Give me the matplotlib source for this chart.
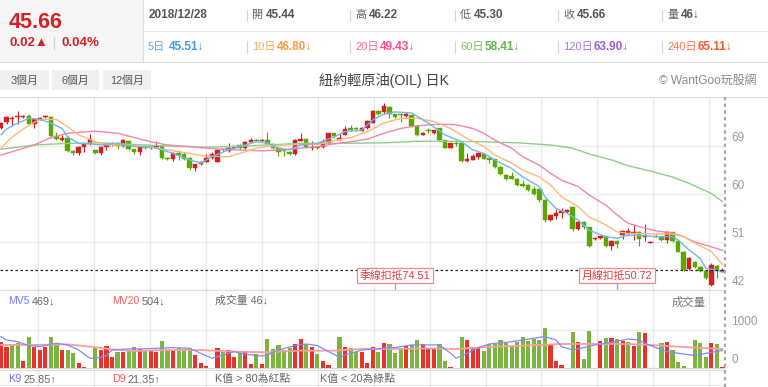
import matplotlib
matplotlib.use('Agg')
import matplotlib.pyplot as plt
from matplotlib.patches import Rectangle
from matplotlib.lines import Line2D

plt.rcParams['font.family'] = ['Liberation Sans', 'Noto Sans CJK TC', 'DejaVu Sans']

# ---- daily candles (131 days) ----
opens = [72.4, 73.6, 74.0, 74.4, 74.5, 74.7, 73.2, 74.1, 74.4, 74.4,
         70.8, 70.2, 70.6, 68.1, 67.7, 68.9, 69.3, 68.2, 67.7, 68.8,
         69.3, 69.6, 69.0, 70.0, 68.4, 67.8, 68.9, 68.6, 68.8, 69.1,
         66.8, 66.6, 67.7, 67.6, 66.8, 64.9, 65.6, 66.1, 66.7, 66.1,
         68.4, 68.0, 68.7, 69.2, 68.6, 69.8, 70.2, 70.0, 70.2, 69.4,
         68.7, 68.3, 67.9, 67.5, 70.0, 70.3, 68.6, 68.9, 68.8, 69.6,
         71.4, 70.2, 71.1, 72.3, 72.3, 71.9, 72.3, 73.4, 75.6, 75.3,
         76.3, 75.0, 74.9, 74.6, 74.8, 72.8, 71.1, 71.9, 71.4, 72.3,
         70.1, 68.7, 69.5, 69.6, 66.2, 66.4, 67.0, 67.6, 66.7, 66.5,
         65.1, 63.6, 63.3, 62.9, 61.9, 61.7, 60.9, 60.9, 58.9, 55.2,
         55.9, 56.5, 56.6, 57.5, 53.4, 54.7, 53.8, 51.6, 51.7, 52.1,
         50.3, 51.2, 52.4, 52.6, 52.7, 52.8, 52.0, 50.9, 52.0, 51.9,
         51.3, 52.8, 51.2, 49.2, 45.9, 47.3, 46.3, 45.5, 42.9, 46.5, 45.44]
closes = [73.4, 74.4, 74.2, 74.5, 74.7, 73.2, 74.1, 74.2, 74.5, 70.8,
          70.4, 70.6, 68.0, 67.7, 68.9, 69.4, 70.3, 67.7, 68.8, 69.3,
          69.4, 69.0, 70.1, 68.4, 67.9, 68.9, 68.6, 68.9, 69.1, 66.7,
          66.6, 67.7, 67.4, 66.5, 64.9, 65.6, 66.1, 66.8, 67.5, 68.3,
          68.2, 68.7, 69.0, 68.6, 69.8, 70.2, 70.0, 70.2, 69.4, 68.7,
          67.9, 68.1, 67.6, 70.1, 70.4, 68.9, 68.8, 68.6, 69.7, 71.4,
          70.8, 70.6, 72.2, 72.1, 72.2, 72.3, 73.7, 75.6, 75.1, 76.6,
          75.0, 74.5, 74.8, 75.0, 72.8, 71.1, 71.4, 71.8, 72.0, 70.1,
          68.7, 69.5, 69.4, 66.2, 66.5, 67.1, 67.7, 66.6, 66.4, 65.0,
          63.7, 62.9, 62.9, 61.7, 61.6, 60.7, 60.0, 58.9, 55.2, 56.0,
          56.5, 56.8, 57.0, 53.4, 54.7, 53.8, 50.3, 51.8, 52.1, 50.3,
          51.2, 50.72, 53.1, 53.1, 52.8, 51.6, 52.1, 51.0, 52.1, 51.3,
          52.8, 51.2, 49.2, 45.7, 48.0, 46.4, 45.6, 44.2, 46.7, 45.6, 45.66]
highs = [73.6, 74.6, 74.6, 75.6, 74.9, 75.0, 74.2, 74.4, 74.9, 74.5,
         71.7, 71.0, 70.8, 68.3, 69.0, 69.5, 71.2, 68.3, 69.1, 69.5,
         69.8, 69.8, 70.3, 70.1, 68.5, 69.0, 69.0, 69.2, 69.9, 69.3,
         67.0, 67.8, 68.2, 67.8, 66.9, 65.7, 66.2, 67.6, 67.9, 68.4,
         68.5, 69.6, 69.1, 69.4, 69.9, 70.6, 70.3, 70.4, 71.6, 69.6,
         68.9, 68.5, 68.0, 70.3, 71.4, 70.4, 70.0, 69.0, 70.3, 71.5,
         71.5, 71.4, 72.8, 72.9, 72.6, 72.6, 73.8, 75.7, 75.8, 77.0,
         76.5, 75.1, 75.0, 75.3, 75.0, 73.0, 71.6, 72.3, 72.1, 72.4,
         70.2, 69.6, 69.9, 69.7, 67.7, 67.6, 67.9, 67.7, 66.9, 66.6,
         65.2, 63.8, 64.1, 63.1, 62.6, 61.9, 61.5, 61.0, 59.0, 56.1,
         57.1, 57.3, 57.1, 57.6, 55.0, 55.0, 53.9, 51.9, 52.2, 52.2,
         51.3, 51.3, 53.2, 53.7, 54.4, 53.0, 54.3, 51.1, 52.3, 52.0,
         53.0, 52.9, 51.3, 49.3, 48.1, 47.5, 46.5, 45.7, 47.0, 46.7, 46.22]
lows = [72.2, 73.2, 72.9, 73.2, 74.3, 72.9, 72.3, 73.9, 74.2, 70.6,
        70.2, 69.9, 67.8, 67.4, 67.3, 67.9, 69.2, 67.6, 67.4, 68.3,
        69.1, 68.4, 68.9, 68.3, 67.6, 67.4, 68.4, 68.5, 68.7, 66.5,
        66.4, 66.2, 66.4, 66.4, 64.5, 64.4, 65.4, 66.0, 66.5, 66.0,
        68.0, 67.9, 68.6, 68.4, 68.5, 69.7, 69.9, 69.9, 69.3, 68.5,
        67.1, 67.1, 67.4, 67.4, 69.9, 68.7, 68.3, 68.5, 68.7, 69.5,
        70.6, 70.1, 71.0, 72.0, 71.8, 71.8, 72.2, 73.3, 74.9, 75.1,
        74.2, 74.3, 73.6, 74.5, 72.6, 70.9, 71.0, 71.4, 71.2, 69.9,
        68.6, 68.6, 69.0, 66.0, 66.1, 66.3, 66.6, 66.5, 65.9, 64.9,
        63.5, 62.7, 62.8, 61.5, 61.4, 60.5, 59.8, 58.5, 54.8, 55.0,
        55.4, 55.5, 56.4, 53.1, 53.2, 53.5, 50.1, 51.4, 51.6, 50.1,
        49.5, 49.9, 51.6, 52.4, 51.3, 50.3, 51.2, 50.8, 51.9, 51.2,
        50.9, 51.0, 49.1, 45.5, 45.8, 46.2, 45.4, 44.0, 42.7, 44.3, 45.30]

# ---- moving averages (day index, value) ----
ma5_idx = [0, 1, 3, 5, 7, 9, 11, 12, 14, 16, 18, 21, 24, 27, 29, 31, 34, 36, 38, 41,
           43, 46, 48, 50, 52, 54, 57, 60, 62, 65, 67, 69, 71, 74, 77, 80, 83, 85, 87, 89,
           92, 94, 97, 98, 100, 102, 104, 106, 109, 111, 113, 116, 118, 121, 122, 124, 126,
           127, 129, 130]
ma5 = [71.1, 72.2, 73.3, 74.2, 74.0, 73.3, 72.3, 70.7, 69.5, 69.4, 69.2, 69.5, 68.9, 68.9,
       68.3, 67.6, 66.4, 65.8, 67.0, 68.3, 68.9, 69.8, 69.6, 68.6, 68.3, 69.2, 69.5, 70.7,
       71.7, 72.0, 73.9, 75.0, 75.4, 75.2, 73.3, 71.1, 69.8, 68.3, 67.6, 66.4, 64.8, 63.2,
       61.4, 59.5, 57.3, 56.4, 55.1, 53.2, 52.0, 51.7, 52.3, 52.2, 52.0, 52.0, 51.4, 49.5,
       47.9, 46.1, 45.7, 45.51]
ma10_idx = [0, 2, 5, 7, 10, 12, 14, 17, 19, 23, 26, 30, 34, 37, 41, 43, 46, 48, 51, 54,
            57, 60, 63, 66, 69, 72, 75, 78, 81, 84, 87, 89, 92, 94, 97, 99, 101, 104, 106,
            109, 111, 113, 116, 118, 121, 123, 125, 128, 130]
ma10 = [68.6, 70.7, 72.9, 74.0, 74.0, 72.6, 71.1, 69.8, 69.2, 69.2, 68.9, 68.3, 67.6, 67.1,
        67.0, 67.6, 68.6, 68.9, 69.2, 69.3, 69.3, 70.0, 70.6, 71.7, 73.3, 74.2, 74.2, 73.6,
        72.3, 70.4, 68.9, 67.3, 65.8, 64.5, 63.2, 61.7, 59.5, 57.6, 55.7, 54.2, 52.9, 52.6,
        52.6, 52.5, 52.5, 52.0, 50.8, 49.2, 46.8]
ma20_idx = [0, 6, 9, 12, 17, 21, 24, 27, 30, 34, 37, 42, 47, 51, 54, 57, 60, 63, 66, 69,
            72, 75, 79, 82, 85, 87, 89, 92, 94, 97, 99, 101, 104, 106, 109, 111, 113, 116,
            118, 121, 123, 125, 128, 130]
ma20 = [67.3, 69.2, 70.6, 71.4, 71.8, 71.4, 70.6, 69.8, 69.2, 68.9, 68.6, 68.3, 68.1, 68.3,
        68.6, 68.9, 69.4, 69.8, 70.3, 71.4, 72.3, 72.8, 73.1, 73.0, 72.3, 71.4, 70.1, 68.6,
        67.0, 65.4, 63.9, 62.6, 61.4, 59.8, 57.9, 56.1, 54.5, 53.6, 53.1, 52.7, 52.0, 51.0,
        50.1, 49.43]
ma60_idx = [0, 6, 12, 18, 24, 30, 36, 42, 48, 54, 60, 69, 75, 81, 87, 93, 99, 103, 106,
            110, 113, 117, 121, 124, 128, 130]
ma60 = [68.4, 69.2, 69.5, 69.6, 69.3, 69.0, 68.8, 68.9, 69.2, 69.5, 69.5, 69.6, 69.9, 69.9,
        69.8, 69.6, 69.2, 68.6, 67.5, 66.4, 65.3, 64.3, 63.2, 62.0, 60.1, 58.6]

# ---- volume ----
volumes = [700, 570, 630, 660, 200, 815, 570, 480, 570, 815,
           675, 480, 480, 410, 150, 35, 0, 525, 480, 590,
           290, 440, 440, 480, 550, 510, 465, 480, 440, 720,
           465, 465, 545, 510, 545, 350, 150, 60, 0, 545,
           440, 480, 305, 410, 465, 105, 375, 115, 770, 510,
           615, 480, 525, 630, 770, 640, 570, 375, 200, 90,
           0, 835, 550, 525, 440, 440, 130, 570, 440, 675,
           640, 410, 510, 590, 615, 745, 630, 525, 525, 630,
           195, 35, 0, 815, 745, 550, 570, 455, 640, 630,
           745, 675, 570, 700, 835, 720, 765, 745, 1060, 650,
           200, 90, 0, 965, 700, 255, 980, 0, 730, 790,
           790, 770, 730, 700, 590, 950, 920, 0, 0, 660,
           685, 480, 160, 60, 0, 745, 660, 305, 660, 630, 46]
vol_up = [1, 1, 0, 0, 1, 0, 1, 1, 1, 0,
          0, 1, 0, 0, 1, 1, 1, 0, 1, 1,
          1, 0, 1, 0, 0, 1, 0, 1, 1, 0,
          0, 1, 0, 0, 0, 1, 1, 1, 1, 1,
          0, 1, 1, 0, 1, 1, 0, 1, 0, 0,
          0, 0, 0, 1, 1, 0, 1, 0, 1, 1,
          0, 0, 1, 0, 0, 1, 1, 1, 0, 1,
          0, 0, 0, 1, 0, 0, 1, 1, 1, 0,
          0, 1, 0, 0, 1, 1, 1, 0, 0, 0,
          0, 0, 0, 0, 0, 0, 0, 0, 0, 1,
          1, 1, 0, 0, 1, 0, 0, 0, 1, 0,
          1, 0, 1, 0, 1, 0, 1, 0, 0, 0,
          1, 0, 0, 0, 0, 0, 0, 0, 1, 0, 1]
mv5_idx = [0, 1, 3, 5, 7, 10, 12, 14, 16, 17, 19, 20, 23, 25, 28, 31, 34, 36, 38, 40,
           42, 44, 47, 48, 50, 53, 55, 57, 59, 61, 62, 65, 67, 71, 74, 77, 79, 81, 82, 84,
           86, 88, 91, 93, 95, 98, 100, 101, 103, 105, 107, 109, 113, 115, 116, 118, 120,
           122, 125, 127, 130]
mv5 = [835, 745, 700, 600, 570, 660, 615, 480, 265, 265, 335, 480, 510, 510, 525, 545,
       525, 395, 265, 350, 440, 370, 325, 350, 480, 600, 640, 600, 440, 290, 350, 480,
       510, 545, 615, 615, 615, 395, 265, 395, 545, 640, 685, 720, 770, 835, 745, 570,
       480, 545, 615, 660, 770, 745, 660, 545, 440, 395, 335, 395, 469]
mv20_idx = [0, 6, 12, 16, 20, 24, 30, 36, 42, 48, 54, 60, 65, 71, 77, 82, 89, 95, 101,
            107, 113, 117, 122, 130]
mv20 = [615, 615, 630, 570, 500, 455, 480, 480, 440, 420, 465, 465, 510, 510, 525, 510,
        570, 600, 640, 640, 640, 615, 570, 504]

price_ticks = [69, 60, 51, 42]
quarter_deduct_day, quarter_deduct = 71, 74.51
month_deduct_day, month_deduct = 111, 50.72

UP, DOWN = '#d42020', '#5aa700'
W, H = 768, 387


def fx(px):
    return px / W


def fy(py):
    return 1 - py / H


fig = plt.figure(figsize=(7.68, 3.87), dpi=100)
fig.patch.set_facecolor('white')


def hline(y, x0, x1, color='#e2e2e2', lw=0.8):
    fig.add_artist(Line2D([fx(x0), fx(x1)], [fy(y), fy(y)], color=color, lw=lw))


def vline(x, y0, y1, color='#e2e2e2', lw=0.8, ls='-'):
    fig.add_artist(Line2D([fx(x), fx(x)], [fy(y0), fy(y1)], color=color, lw=lw, ls=ls))


# ---- header ----
fig.add_artist(Rectangle((0, fy(62)), fx(143), 62 / H, transform=fig.transFigure,
                         fc='#f6f6f6', ec='none'))
vline(143, 0, 62, '#dddddd')
hline(31, 143, 768, '#e6e6e6')
hline(62, 0, 768, '#dddddd')

red = '#d81f26'
fig.text(fx(9), fy(22), '45.66', color=red, fontsize=15.5, fontweight='bold', va='center')
fig.text(fx(9), fy(43), '0.02▲', color=red, fontsize=9.5, fontweight='bold', va='center')
vline(54, 37, 49, '#d0d0d0')
fig.text(fx(62), fy(43), '0.04%', color=red, fontsize=9.5, fontweight='bold', va='center')

fig.text(fx(149), fy(15), '2018/12/28', color='#555555', fontsize=8.5, fontweight='bold',
         va='center')
row1 = [(252, '開', '45.44'), (355, '高', '46.22'), (460, '低', '45.30'),
        (563, '收', '45.66'), (667, '量', '46↓')]
for x, lab, val in row1:
    vline(x - 5, 10, 21, '#d6d6d6')
    fig.text(fx(x), fy(15), lab, color='#666666', fontsize=8, va='center')
    fig.text(fx(x + 14), fy(15), val, color='#555555', fontsize=8.5, fontweight='bold',
             va='center')

row2 = [(148, 21, '5日', '45.51↓', '#3d9be9'), (252, 25, '10日', '46.80↓', '#ff9a3c'),
        (355, 25, '20日', '49.43↓', '#ff4b86'), (460, 25, '60日', '58.41↓', '#62b545'),
        (563, 31, '120日', '63.90↓', '#9c5fd0'), (667, 31, '240日', '65.11↓', '#ff5a2e')]
for x, off, lab, val, col in row2:
    if x > 150:
        vline(x - 5, 41, 53, '#d6d6d6')
    fig.text(fx(x), fy(47), lab, color=col, fontsize=8, va='center', alpha=0.85)
    fig.text(fx(x + off), fy(47), val, color=col, fontsize=8.5, fontweight='bold',
             va='center')

# ---- range buttons and title ----
for x0, x1, lab in [(0, 49, '3個月'), (52, 99, '6個月'), (103, 151, '12個月')]:
    fig.add_artist(Rectangle((fx(x0), fy(90)), fx(x1 - x0), 20 / H,
                             transform=fig.transFigure, fc='#f0f0f0', ec='none'))
    fig.text(fx((x0 + x1) / 2), fy(80.5), lab, color='#555555', fontsize=7.8,
             ha='center', va='center')
fig.text(fx(384), fy(80), '紐約輕原油(OIL) 日K', color='#444444', fontsize=10.2,
         ha='center', va='center')
fig.text(fx(756), fy(80.5), '© WantGoo玩股網', color='#8a8a8a', fontsize=8.6,
         ha='right', va='center')
hline(97, 0, 768, '#dddddd')

# ---- background grid axes (price + volume + kd area) ----
XL = (-0.18, 130.4)
bg = fig.add_axes([0, 0, fx(724.7), fy(97)])
bg.set_xlim(*XL)
bg.set_ylim(0, 1)
bg.set_axis_off()
for k in range(13):
    bg.axvline(6.75 + 10.07 * k, color='#e8e8e8', lw=0.9)

hline(290, 0, 724.7, '#dcdcdc')
hline(370, 0, 724.7, '#dcdcdc')
hline(385, 0, 724.7, '#e6e6e6')

# ---- price panel ----
ax = fig.add_axes([0, fy(290), fx(724.7), (290 - 97) / H])
ax.set_xlim(*XL)
ax.set_ylim(42, 78.2)
ax.set_axis_off()
for v in price_ticks:
    ax.axhline(v, color='#ebebeb', lw=0.9, zorder=0)
    ax.text(1.009, v + 0.45, str(v), transform=ax.get_yaxis_transform(), color='#9a9a9a',
            fontsize=8.5, va='bottom', ha='left')

idx = list(range(len(closes)))
cols = [UP if c >= o else DOWN for o, c in zip(opens, closes)]
bottoms = [min(o, c) for o, c in zip(opens, closes)]
heights = [max(abs(c - o), 0.15) for o, c in zip(opens, closes)]
ax.vlines(idx, lows, highs, colors=cols, lw=0.8, zorder=2)
ax.bar(idx, heights, bottom=bottoms, width=0.8, color=cols, edgecolor=cols, lw=0.3,
       zorder=3)

ax.plot(ma60_idx, ma60, color='#8fce8c', lw=1.0, zorder=4)
ax.plot(ma20_idx, ma20, color='#f485ae', lw=1.0, zorder=4)
ax.plot(ma10_idx, ma10, color='#ffb878', lw=1.0, zorder=4)
ax.plot(ma5_idx, ma5, color='#70b6f0', lw=1.0, zorder=4)

ax.axhline(closes[-1], color='#222222', lw=0.9, ls=(0, (2, 2)), zorder=5)
box_y = 44.72
for day, val, lab in [(quarter_deduct_day, quarter_deduct, '季線扣抵'),
                      (month_deduct_day, month_deduct, '月線扣抵')]:
    ax.plot([day, day], [42, box_y], color='#f08a8a', lw=0.9, zorder=5)
    ax.text(day, box_y, f'{lab}{val:.2f}', ha='center', va='center', fontsize=7.8,
            color='#e23b3b', zorder=6,
            bbox=dict(boxstyle='square,pad=0.22', fc='white', ec='#f08a8a', lw=0.9))

# ---- volume panel ----
vax = fig.add_axes([0, fy(370), fx(724.7), 80 / H])
vax.set_xlim(*XL)
vax.set_ylim(-45, 2061)
vax.set_axis_off()
vax.axhline(1000, color='#ececec', lw=0.9, zorder=0)
vax.axhline(0, color='#d5d5d5', lw=0.9, zorder=0)
for v in [1000, 0]:
    vax.text(1.009, v + 60, str(v), transform=vax.get_yaxis_transform(), color='#9a9a9a',
             fontsize=8.5, va='bottom', ha='left')
vcols = ['#e8322e' if u else '#7cb440' for u in vol_up]
vax.bar(idx, volumes, width=0.75, color=vcols, zorder=2)
vax.plot(mv20_idx, mv20, color='#ff9c9c', lw=1.3, zorder=3)
vax.plot(mv5_idx, mv5, color='#7d8cff', lw=0.9, zorder=3)

fig.text(fx(8), fy(301), 'MV5', color='#6f7cff', fontsize=7.5, va='center')
fig.text(fx(32), fy(301), '469↓', color='#666666', fontsize=7.8, va='center')
fig.text(fx(112), fy(301), 'MV20', color='#ff5a5a', fontsize=7.5, va='center')
fig.text(fx(142), fy(301), '504↓', color='#666666', fontsize=7.8, va='center')
fig.text(fx(215), fy(301), '成交量 46↓', color='#666666', fontsize=7.8, va='center')
fig.text(fx(706), fy(302), '成交量', color='#777777', fontsize=8.2, ha='right',
         va='center')

# ---- KD line labels ----
fig.text(fx(8), fy(379), 'K9', color='#6f7cff', fontsize=7.8, va='center')
fig.text(fx(23), fy(379), '25.85↑', color='#666666', fontsize=7.8, va='center')
fig.text(fx(112), fy(379), 'D9', color='#ff5a5a', fontsize=7.8, va='center')
fig.text(fx(128), fy(379), '21.35↑', color='#666666', fontsize=7.8, va='center')
fig.text(fx(215), fy(379), 'K值 > 80為紅點', color='#666666', fontsize=7.8, va='center')
fig.text(fx(320), fy(379), 'K值 < 20為綠點', color='#666666', fontsize=7.8, va='center')

# right dotted border
vline(724.7, 97, 387, '#a8a8a8', 1.6, (0, (1.5, 1.5)))

fig.savefig('out.png', dpi=100)
